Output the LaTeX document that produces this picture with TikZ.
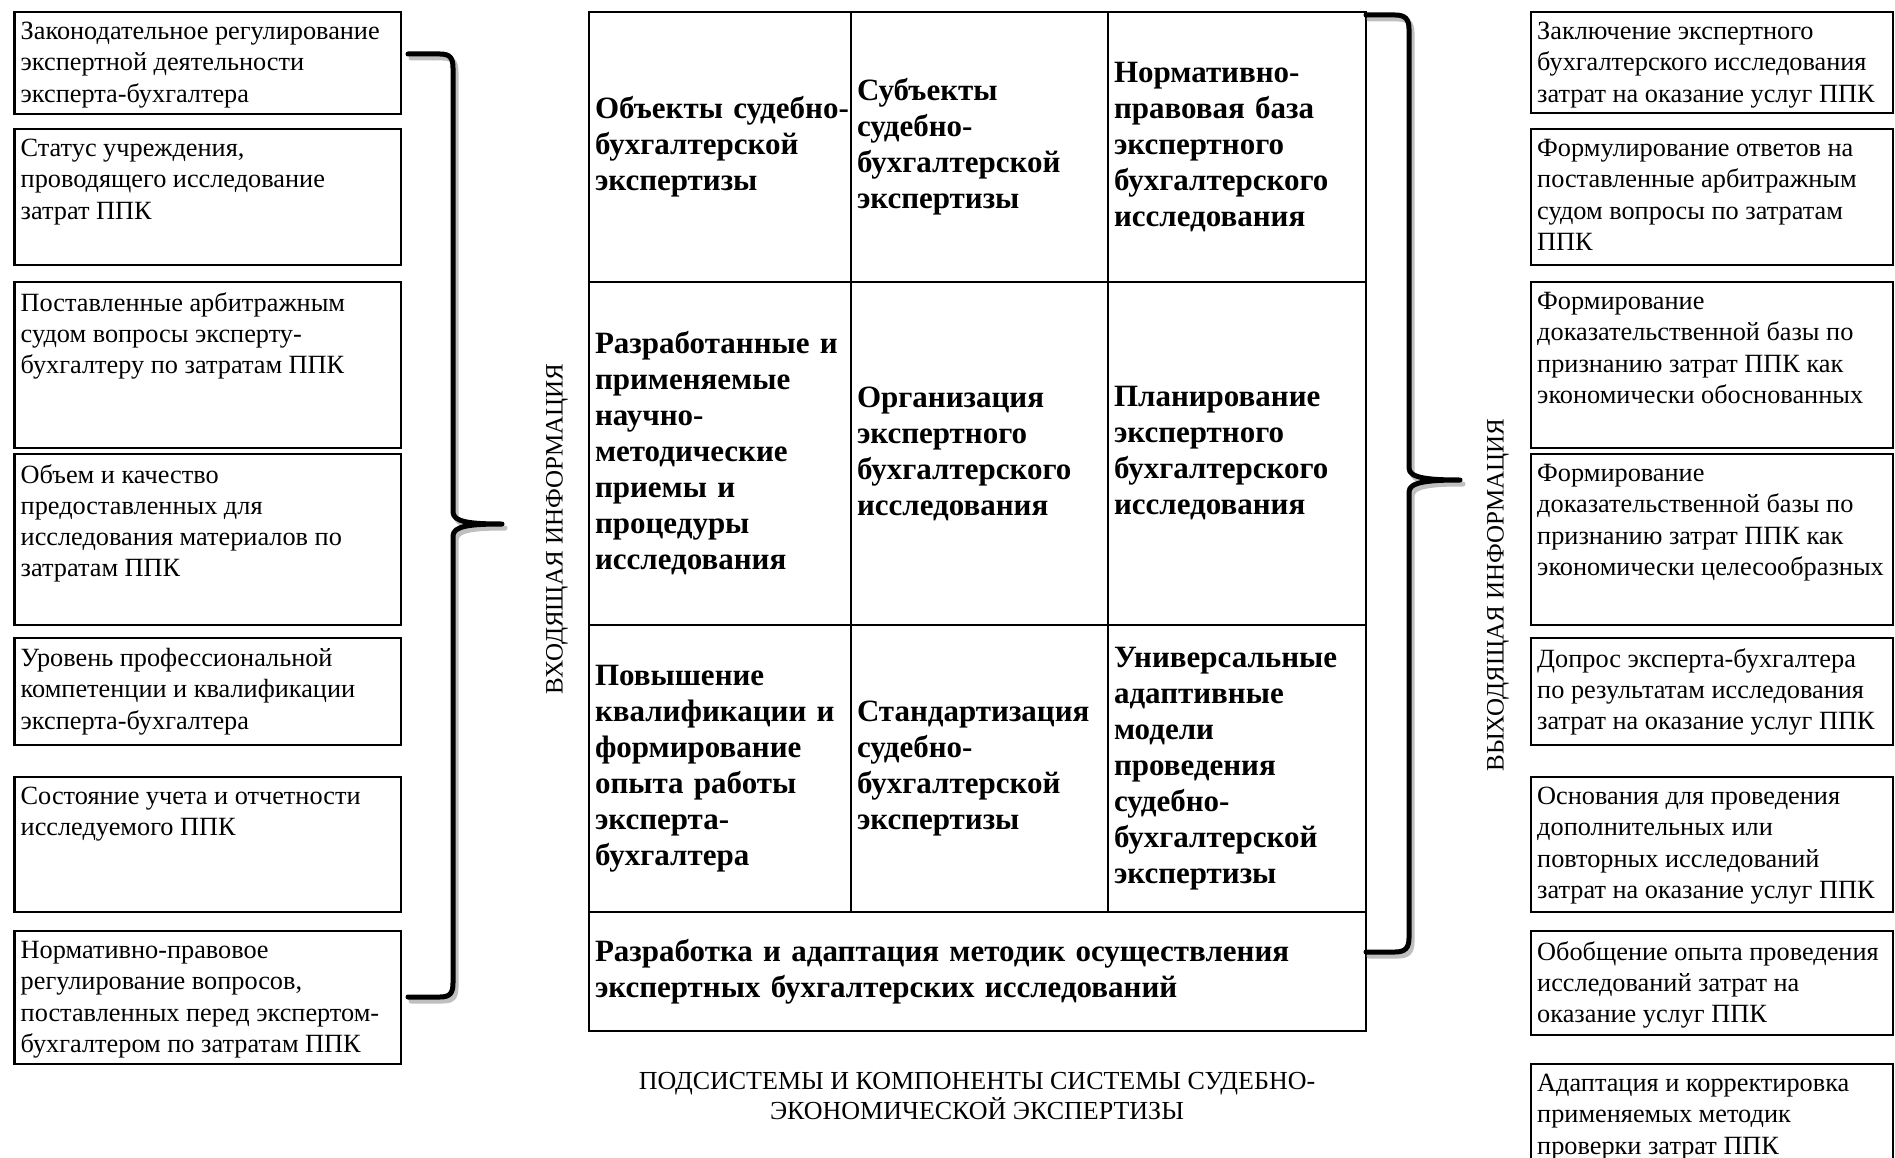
\documentclass[tikz,border=0pt]{standalone}
\usepackage{fontspec}
\setmainfont{Liberation Serif}
\usetikzlibrary{positioning}

\newcommand{\boxfont}{\fontsize{26.3}{31.3}\selectfont}
\newcommand{\cellfont}{\fontsize{31}{36}\selectfont\bfseries}
\newcommand{\capfont}{\fontsize{26}{30}\selectfont}

\tikzset
{
  infobox/.style   = {draw=black, line width=2.6pt, outer sep=0pt, anchor=north west, inner sep=0pt},
  inbox/.style     = {infobox, minimum width=386.5pt},
  outbox/.style    = {infobox, minimum width=362pt},
  boxtext/.style   = {anchor=north west, align=left, inner xsep=6pt, inner ysep=10pt, font=\boxfont, execute at begin node=\strut},
  cell/.style      = {draw=black, line width=2.4pt, outer sep=0pt, align=left, inner xsep=6pt, inner ysep=0pt, font=\cellfont},
  col1/.style      = {text width=250pt},
  col2/.style      = {text width=245pt},
  col3/.style      = {text width=246pt},
  sidelabel/.style = {rotate=90, font=\fontsize{25}{30}\selectfont},
  bracket/.style   = {line width=5pt, line cap=round, line join=round},
  bracketshadow/.style = {bracket, draw=black!25, xshift=3pt, yshift=-4pt}
}

\begin{document}
\begin{tikzpicture}[x=1pt,y=-1pt]
\fill[white] (0,0) rectangle (1895,1158);
\useasboundingbox (0,0) rectangle (1895,1158);
\clip (0,0) rectangle (1895,1158);

% incoming information
\node[inbox, minimum height=102pt] (in1) at (14.5,12) {};
\node[inbox, minimum height=136pt, below=15pt of in1] (in2) {};
\node[inbox, minimum height=166pt, below=17pt of in2] (in3) {};
\node[inbox, minimum height=171pt, below=6pt of in3] (in4) {};
\node[inbox, minimum height=107pt, below=13pt of in4] (in5) {};
\node[inbox, minimum height=135pt, below=32pt of in5] (in6) {};
\node[inbox, minimum height=133pt, below=19pt of in6] (in7) {};
\node[boxtext] (in1text) at (in1.north west) {Законодательное регулирование\\экспертной деятельности\\эксперта-бухгалтера};
\node[boxtext] (in2text) at (in2.north west) {Статус учреждения,\\проводящего исследование\\затрат ППК};
\node[boxtext] (in3text) at (in3.north west) {Поставленные арбитражным\\судом вопросы эксперту-\\бухгалтеру по затратам ППК};
\node[boxtext] (in4text) at (in4.north west) {Объем и качество\\предоставленных для\\исследования материалов по\\затратам ППК};
\node[boxtext] (in5text) at (in5.north west) {Уровень профессиональной\\компетенции и квалификации\\эксперта-бухгалтера};
\node[boxtext] (in6text) at (in6.north west) {Состояние учета и отчетности\\исследуемого ППК};
\node[boxtext] (in7text) at (in7.north west) {Нормативно-правовое\\регулирование вопросов,\\поставленных перед экспертом-\\бухгалтером по затратам ППК};

% subsystems and components
\node[cell, col1, minimum height=270pt, anchor=north west] (c11) at (589,12) {\mbox{Объекты судебно-}\\бухгалтерской\\экспертизы};
\node[cell, col2, minimum height=270pt, right=0pt of c11] (c12) {Субъекты\\судебно-\\бухгалтерской\\экспертизы};
\node[cell, col3, minimum height=270pt, right=0pt of c12] (c13) {Нормативно-\\правовая база\\экспертного\\бухгалтерского\\исследования};
\node[cell, col1, minimum height=343pt, below=0pt of c11] (c21) {Разработанные и\\применяемые\\научно-\\методические\\приемы и\\процедуры\\исследования};
\node[cell, col2, minimum height=343pt, right=0pt of c21] (c22) {Организация\\экспертного\\бухгалтерского\\исследования};
\node[cell, col3, minimum height=343pt, right=0pt of c22] (c23) {Планирование\\экспертного\\бухгалтерского\\исследования};
\node[cell, col1, minimum height=287pt, below=0pt of c21] (c31) {Повышение\\\mbox{квалификации и}\\формирование\\опыта работы\\эксперта-\\бухгалтера};
\node[cell, col2, minimum height=287pt, right=0pt of c31] (c32) {Стандартизация\\судебно-\\бухгалтерской\\экспертизы};
\node[cell, col3, minimum height=287pt, right=0pt of c32] (c33) {Универсальные\\адаптивные\\модели\\проведения\\судебно-\\бухгалтерской\\экспертизы};
\node[cell, text width=765pt, minimum height=119pt, anchor=north west] (c4) at (c31.south west) {Разработка и адаптация методик осуществления\\экспертных бухгалтерских исследований};

\node[font=\capfont, align=center] (caption) at (977,1096) {ПОДСИСТЕМЫ И КОМПОНЕНТЫ СИСТЕМЫ СУДЕБНО-\\ЭКОНОМИЧЕСКОЙ ЭКСПЕРТИЗЫ};

% outgoing information
\node[outbox, minimum height=101pt] (out1) at (1531,12) {};
\node[outbox, minimum height=136pt, below=16pt of out1] (out2) {};
\node[outbox, minimum height=166pt, below=17pt of out2] (out3) {};
\node[outbox, minimum height=171pt, below=6pt of out3] (out4) {};
\node[outbox, minimum height=107pt, below=13pt of out4] (out5) {};
\node[outbox, minimum height=135pt, below=32pt of out5] (out6) {};
\node[outbox, minimum height=104pt, below=19pt of out6] (out7) {};
\node[outbox, minimum height=140pt, below=29pt of out7] (out8) {};
\node[boxtext] (out1text) at (out1.north west) {Заключение экспертного\\бухгалтерского исследования\\затрат на оказание услуг ППК};
\node[boxtext] (out2text) at (out2.north west) {Формулирование ответов на\\поставленные арбитражным\\судом вопросы по затратам\\ППК};
\node[boxtext] (out3text) at (out3.north west) {Формирование\\доказательственной базы по\\признанию затрат ППК как\\экономически обоснованных};
\node[boxtext] (out4text) at (out4.north west) {Формирование\\доказательственной базы по\\признанию затрат ППК как\\экономически целесообразных};
\node[boxtext] (out5text) at (out5.north west) {Допрос эксперта-бухгалтера\\по результатам исследования\\затрат на оказание услуг ППК};
\node[boxtext] (out6text) at (out6.north west) {Основания для проведения\\дополнительных или\\повторных исследований\\затрат на оказание услуг ППК};
\node[boxtext] (out7text) at (out7.north west) {Обобщение опыта проведения\\исследований затрат на\\оказание услуг ППК};
\node[boxtext] (out8text) at (out8.north west) {Адаптация и корректировка\\применяемых методик\\проверки затрат ППК};

% braces
\draw[bracketshadow] (408,54) -- (440,54) .. controls (450,54) and (453,58) .. (453,68) -- (453,512) .. controls (453,522) and (470,524) .. (502,524) .. controls (470,524) and (453,526) .. (453,536) -- (453,983) .. controls (453,993) and (450,997) .. (440,997) -- (408,997);
\draw[bracket] (408,54) -- (440,54) .. controls (450,54) and (453,58) .. (453,68) -- (453,512) .. controls (453,522) and (470,524) .. (502,524) .. controls (470,524) and (453,526) .. (453,536) -- (453,983) .. controls (453,993) and (450,997) .. (440,997) -- (408,997);
\draw[bracketshadow] (1366,15) -- (1395,15) .. controls (1405,15) and (1409,19) .. (1409,29) -- (1409,468) .. controls (1409,478) and (1428,480) .. (1460,480) .. controls (1428,480) and (1409,482) .. (1409,492) -- (1409,938) .. controls (1409,948) and (1405,952) .. (1395,952) -- (1366,952);
\draw[bracket] (1366,15) -- (1395,15) .. controls (1405,15) and (1409,19) .. (1409,29) -- (1409,468) .. controls (1409,478) and (1428,480) .. (1460,480) .. controls (1428,480) and (1409,482) .. (1409,492) -- (1409,938) .. controls (1409,948) and (1405,952) .. (1395,952) -- (1366,952);

\node[sidelabel] (inlabel) at (557,529) {ВХОДЯЩАЯ ИНФОРМАЦИЯ};
\node[sidelabel] (outlabel) at (1498,595) {ВЫХОДЯЩАЯ ИНФОРМАЦИЯ};
\end{tikzpicture}
\end{document}
